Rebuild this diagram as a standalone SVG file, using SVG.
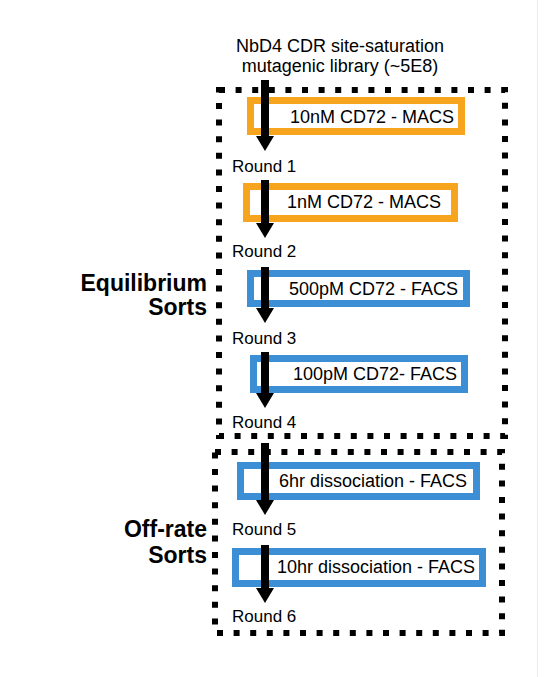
<svg xmlns="http://www.w3.org/2000/svg" width="553" height="677" viewBox="0 0 553 677">
<style>
text{font-family:"Liberation Sans",Arial,sans-serif;fill:#000}
.t{font-size:18px}
.r{font-size:17px}
.h{font-size:23px;font-weight:bold;text-anchor:end}
.dot{fill:none;stroke:#000;stroke-width:6;stroke-dasharray:6 10.6}
.or{fill:#fff;stroke:#F7A51E;stroke-width:7}
.bl{fill:#fff;stroke:#3C8FD4;stroke-width:7}
.sh{stroke:#000;stroke-width:8;fill:none}
</style>
<defs>
<marker id="ah" markerWidth="15" markerHeight="18" refX="0" refY="9" orient="auto" markerUnits="userSpaceOnUse" viewBox="0 0 15 18">
<path d="M0,0 L15,9 L0,18 Z" fill="#000"/>
</marker>
</defs>
<rect width="553" height="677" fill="#fff"/>
<line x1="537.5" y1="0" x2="537.5" y2="677" stroke="#ececec" stroke-width="1"/>
<g id="title"><text class="t" x="340" y="52" text-anchor="middle">NbD4 CDR site-saturation</text><text class="t" x="340" y="72" text-anchor="middle">mutagenic library (~5E8)</text></g>
<g id="equilibrium-group">
<path class="dot" d="M219,90 H505 V436 H219 Z"/>
<text class="h" x="207" y="291">Equilibrium</text><text class="h" x="207" y="315">Sorts</text>
</g>
<g id="offrate-group">
<path class="dot" d="M215,452 H502 V633 H215 Z"/>
<text class="h" x="207" y="537">Off-rate</text><text class="h" x="207" y="563">Sorts</text>
</g>
<g id="step1"><rect class="or" x="250.5" y="100.5" width="211" height="31"/><text class="t" x="290" y="123">10nM CD72 - MACS</text></g>
<g id="step2"><rect class="or" x="246.5" y="186.5" width="208" height="32"/><text class="t" x="287" y="208">1nM CD72 -  MACS</text></g>
<g id="step3"><rect class="bl" x="250.5" y="273.5" width="216" height="30"/><text class="t" x="289" y="295">500pM CD72 - FACS</text></g>
<g id="step4"><rect class="bl" x="253.5" y="358.5" width="211" height="31"/><text class="t" x="293" y="380">100pM CD72- FACS</text></g>
<g id="step5"><rect class="bl" x="240.5" y="465.5" width="236" height="31"/><text class="t" x="279" y="487">6hr dissociation - FACS</text></g>
<g id="step6"><rect class="bl" x="235.5" y="551.5" width="247" height="32"/><text class="t" x="277" y="573">10hr dissociation - FACS</text></g>
<g id="rounds">
<text class="r" x="232" y="172">Round 1</text>
<text class="r" x="232" y="257">Round 2</text>
<text class="r" x="232" y="344">Round 3</text>
<text class="r" x="232" y="428">Round 4</text>
<text class="r" x="232" y="535">Round 5</text>
<text class="r" x="232" y="622">Round 6</text>
</g>
<g id="connectors">
<line class="sh" x1="265" y1="80" x2="265" y2="136" marker-end="url(#ah)"/>
<line class="sh" x1="265" y1="180" x2="265" y2="223" marker-end="url(#ah)"/>
<line class="sh" x1="265" y1="267" x2="265" y2="308" marker-end="url(#ah)"/>
<line class="sh" x1="265" y1="352" x2="265" y2="393" marker-end="url(#ah)"/>
<line class="sh" x1="265" y1="443" x2="265" y2="500" marker-end="url(#ah)"/>
<line class="sh" x1="265" y1="545" x2="265" y2="588" marker-end="url(#ah)"/>
</g>
</svg>
